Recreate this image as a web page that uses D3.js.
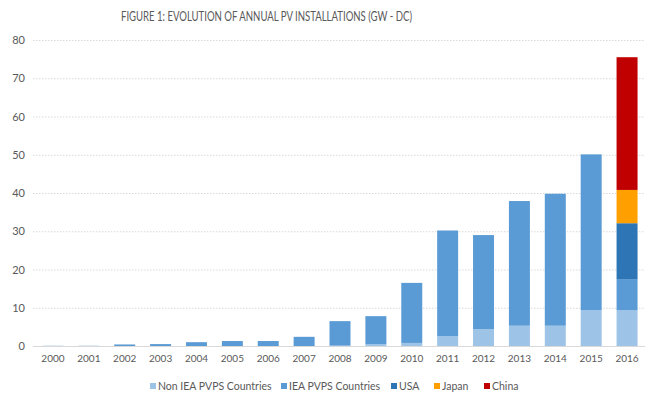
<!DOCTYPE html>
<html><head><meta charset="utf-8">
<script src="https://cdn.jsdelivr.net/npm/d3@7"></script>
<style>body{margin:0;background:#fff}svg{display:block}</style>
</head><body>
<svg id="c" width="650" height="410"></svg>
<script>
const years = ["2000","2001","2002","2003","2004","2005","2006","2007","2008","2009","2010","2011","2012","2013","2014","2015","2016"];
const seriesNames = ["Non IEA PVPS Countries","IEA PVPS Countries","USA","Japan","China"];
const nonIEA = [0,0,0,0,0,0,0,0,0.1,0.5,0.8,2.6,4.4,5.3,5.3,9.4,9.4];
const iea = [0.05,0.05,0.4,0.5,1.0,1.3,1.3,2.4,6.4,7.3,15.7,27.6,24.6,32.6,34.5,40.7,8.1];
const usa = [0,0,0,0,0,0,0,0,0,0,0,0,0,0,0,0,14.6];
const japan = [0,0,0,0,0,0,0,0,0,0,0,0,0,0,0,0,8.7];
const china = [0,0,0,0,0,0,0,0,0,0,0,0,0,0,0,0,34.7];
const yTicks = [0,10,20,30,40,50,60,70,80];
const colors = ["#9DC3E6","#5B9BD5","#2E75B6","#FFA000","#C00000"];

const rows = years.map((y,i)=>({year:y,"Non IEA PVPS Countries":nonIEA[i],"IEA PVPS Countries":iea[i],"USA":usa[i],"Japan":japan[i],"China":china[i]}));
const svg = d3.select("#c");
const font = "Lato, 'Open Sans', sans-serif";
const x = d3.scaleBand().domain(years).range([35,645]).paddingInner(0.415).paddingOuter(0.2075);
const y = d3.scaleLinear().domain([0,80]).range([346,40]);

svg.append("text").attr("x",121).attr("y",21)
  .attr("font-family",font).attr("font-size",12.5).attr("fill","#595959")
  .attr("textLength",291).attr("lengthAdjust","spacingAndGlyphs")
  .text("FIGURE 1: EVOLUTION OF ANNUAL PV INSTALLATIONS (GW - DC)");

// grid
svg.append("g").selectAll("line").data(yTicks.filter(d=>d>0)).join("line")
  .attr("x1",33).attr("x2",645).attr("y1",d=>y(d)+0.5).attr("y2",d=>y(d)+0.5)
  .attr("stroke","#d9d9d9").attr("stroke-dasharray","1.5,1.5");

const yAxis = svg.append("g").attr("transform","translate(33,0)")
  .call(d3.axisLeft(y).tickValues(yTicks).tickSize(0).tickPadding(8));
yAxis.select(".domain").remove();
yAxis.selectAll("text").attr("font-family",font).attr("font-size",11).attr("fill","#595959");

const stack = d3.stack().keys(seriesNames)(rows);
svg.append("g").selectAll("g").data(stack).join("g").attr("fill",(d,i)=>colors[i])
  .selectAll("rect").data(d=>d).join("rect")
  .attr("x",d=>x(d.data.year)).attr("width",x.bandwidth())
  .attr("y",d=>y(d[1])).attr("height",d=>Math.max(0,y(d[0])-y(d[1])));

svg.append("line").attr("x1",33).attr("x2",645).attr("y1",346.5).attr("y2",346.5).attr("stroke","#d9d9d9");

const xAxis = svg.append("g").attr("transform","translate(0,347)")
  .call(d3.axisBottom(x).tickSize(0).tickPadding(8));
xAxis.select(".domain").remove();
xAxis.selectAll("text").attr("font-family",font).attr("font-size",10).attr("fill","#595959");

// legend
const legX = [150,281,391,434,484];
const leg = svg.append("g").selectAll("g").data(seriesNames).join("g")
  .attr("transform",(d,i)=>`translate(${legX[i]},382)`);
leg.append("rect").attr("width",6).attr("height",6).attr("y",1).attr("fill",(d,i)=>colors[i]);
leg.append("text").attr("x",8).attr("y",7.5).attr("font-family",font).attr("font-size",10.5)
  .attr("fill","#595959").text(d=>d);
</script>
</body></html>
